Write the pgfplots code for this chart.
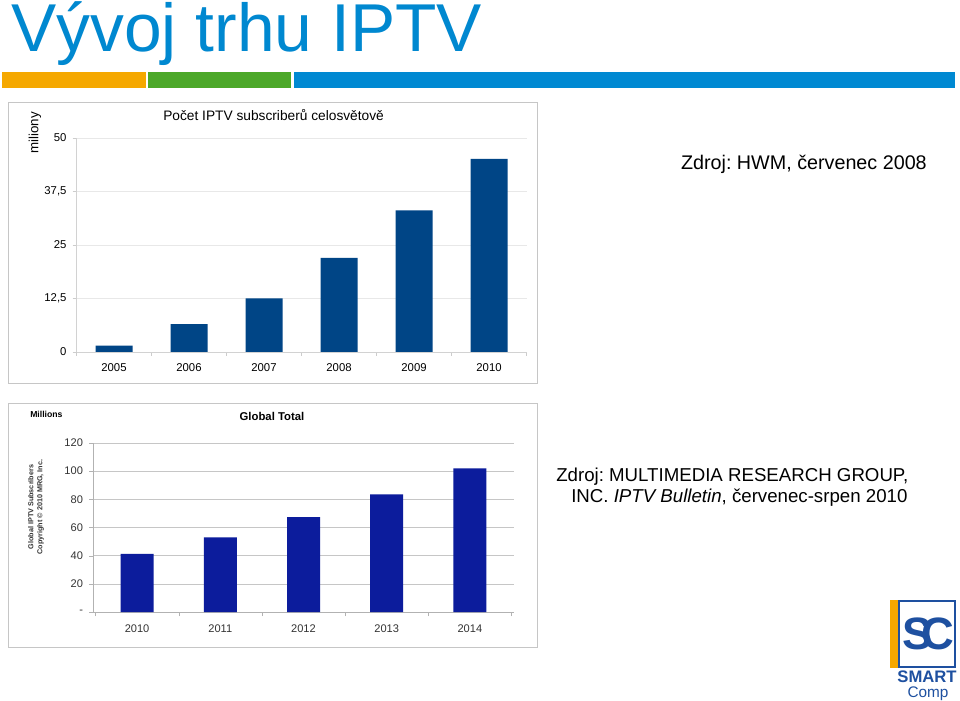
\documentclass[border=0pt]{standalone}
\usepackage{pgfplots}
\pgfplotsset{compat=1.18}
\usepackage{fontspec}
\setmainfont{Liberation Sans}
\frenchspacing
\definecolor{titleblue}{RGB}{0,136,208}
\definecolor{barorange}{RGB}{245,168,0}
\definecolor{bargreen}{RGB}{76,168,41}
\definecolor{barblue}{RGB}{0,137,210}
\definecolor{loblue}{RGB}{0,69,134}
\definecolor{mrgblue}{RGB}{12,28,156}
\definecolor{logoblue}{RGB}{30,80,160}
\pgfplotstableread{
x y
0 1.5
1 6.5
2 12.5
3 22.0
4 33.1
5 45.1
}\hwm
\pgfplotstableread{
x y
0 41.3
1 53.0
2 67.4
3 83.5
4 102.0
}\mrg
\begin{document}
\begin{tikzpicture}
\begin{scope}[x=0.75pt,y=-0.75pt]
\useasboundingbox (0,0) rectangle (960,700);
\fill[white] (0,0) rectangle (960,700);
% title
\node[anchor=base west, inner sep=0, text=titleblue, font=\fontsize{50.8}{51}\selectfont] at (11,52) {Vývoj trhu IPTV};
\fill[barorange] (2,72) rectangle (146,88);
\fill[bargreen] (148,72) rectangle (291,88);
\fill[barblue] (294,72) rectangle (955,88);
\draw[gray!45] (8,102) rectangle (537,383);
\draw[gray!45] (8,403) rectangle (537,647);
\end{scope}
% chart 1
\begin{axis}[at={(57.375pt,-264pt)}, anchor=south west, scale only axis,
  width=337.5pt, height=160.5pt,
  xmin=-0.5, xmax=5.5, ymin=0, ymax=50,
  ytick={0,12.5,25,37.5,50}, yticklabels={0,{12,5},25,{37,5},50},
  xtick={0,1,2,3,4,5}, xticklabels={2005,2006,2007,2008,2009,2010},
  minor xtick={-0.5,0.5,1.5,2.5,3.5,4.5,5.5},
  ymajorgrids, grid style={gray!18},
  axis x line*=bottom, axis y line*=left,
  axis line style={gray!35}, tick style={gray!40},
  tick align=outside, major tick length=3pt, minor tick length=3pt,
  xtick style={draw=none}, minor x tick style={draw=gray!40},
  ticklabel style={font=\fontsize{8.5}{10}\selectfont},
  yticklabel style={xshift=-1pt},
  xticklabel style={yshift=-2pt},
]
\addplot[ybar, bar width=27.75pt, bar shift=0pt, fill=loblue, draw=none] table[x=x,y=y] {\hwm};
\end{axis}
% chart 2
\begin{axis}[at={(69.75pt,-459pt)}, anchor=south west, scale only axis,
  width=315.75pt, height=126.75pt,
  xmin=-0.53, xmax=4.53, ymin=0, ymax=120,
  ytick={0,20,40,60,80,100,120}, yticklabels={-,20,40,60,80,100,120},
  xtick={0,1,2,3,4}, xticklabels={2010,2011,2012,2013,2014},
  minor xtick={-0.5,0.5,1.5,2.5,3.5,4.5},
  ymajorgrids, grid style={gray!45},
  axis x line*=bottom, axis y line*=left,
  axis line style={gray!60}, tick style={gray!60},
  tick align=outside, major tick length=3pt, minor tick length=3pt,
  xtick style={draw=none}, minor x tick style={draw=gray!60},
  ticklabel style={font=\fontsize{8.3}{10}\selectfont, text=black!80},
  yticklabel style={xshift=-1pt},
  xticklabel style={yshift=-3pt},
]
\addplot[ybar, bar width=24.75pt, bar shift=0pt, fill=mrgblue, draw=none] table[x=x,y=y] {\mrg};
\end{axis}
\begin{scope}[x=0.75pt,y=-0.75pt]
\node[rotate=90, font=\fontsize{10}{12}\selectfont] at (35,133) {miliony};
\node[anchor=base west, inner sep=0, font=\fontsize{10.3}{12}\selectfont] at (163,121) {Počet IPTV subscriberů celosvětově};
\node[anchor=base east, inner sep=0, font=\fontsize{14.8}{18}\selectfont] at (927,170) {Zdroj: HWM, červenec 2008};
\node[anchor=base west, inner sep=0, font=\bfseries\fontsize{6.5}{8}\selectfont] at (30,418) {Millions};
\node[anchor=base, inner sep=0, font=\bfseries\fontsize{8.5}{10}\selectfont] at (272,421) {Global Total};
\node[rotate=90, align=center, text=black!80, font=\bfseries\fontsize{5.4}{6.8}\selectfont] at (36,507) {Global IPTV Subscribers\\Copyright © 2010 MRG, Inc.};
\node[anchor=base west, inner sep=0, font=\fontsize{14}{18}\selectfont] at (556,482) {Zdroj: MULTIMEDIA RESEARCH GROUP,};
\node[anchor=base west, inner sep=0, font=\fontsize{14}{18}\selectfont] at (571,503) {INC. \textit{IPTV Bulletin}, červenec-srpen 2010};
% logo
\fill[barorange] (890,600) rectangle (898,668);
\draw[logoblue, line width=1.2pt] (899,601) rectangle (955,667);
\node[text=logoblue, font=\bfseries\fontsize{34}{34}\selectfont] at (918,634) {S};
\node[text=logoblue, font=\bfseries\fontsize{34}{34}\selectfont] at (938,634) {C};
\node[anchor=base, inner sep=0, text=logoblue, font=\bfseries\fontsize{12.5}{13}\selectfont] at (927,682) {SMART};
\node[anchor=base, inner sep=0, text=logoblue, font=\fontsize{11.5}{13}\selectfont] at (928,697) {Comp};
\end{scope}
\end{tikzpicture}
\end{document}
